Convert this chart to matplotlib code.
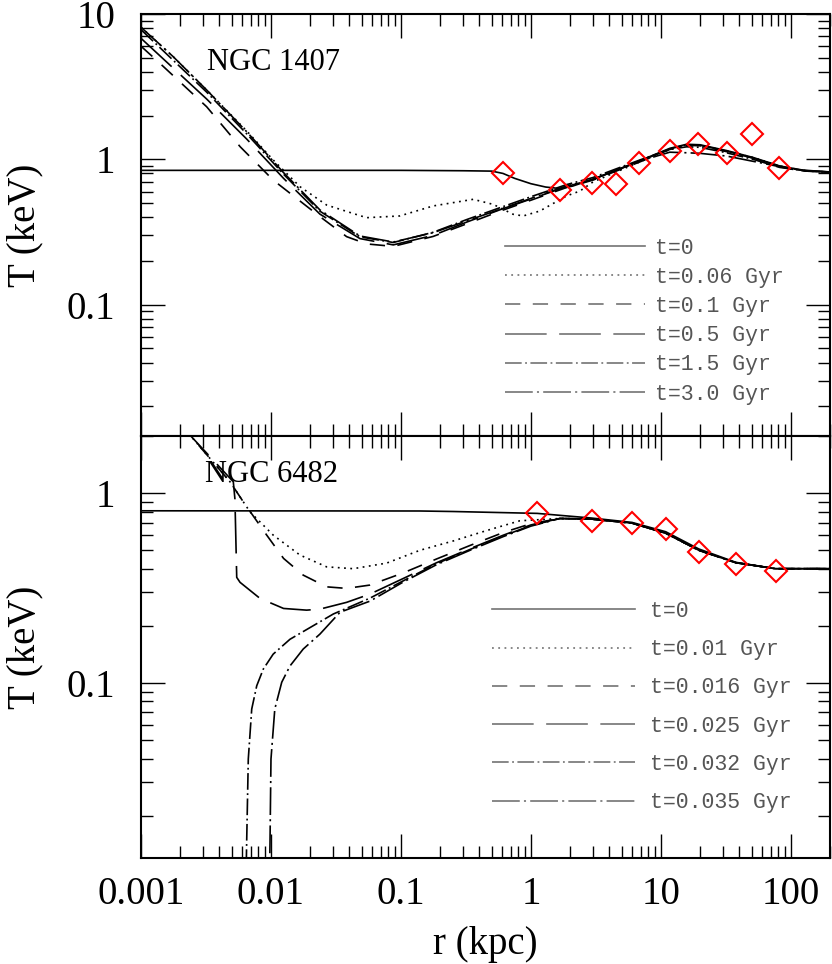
import numpy as np
import matplotlib.pyplot as plt
from matplotlib.lines import Line2D
from matplotlib.ticker import FixedLocator, LogLocator, NullFormatter, FuncFormatter

plt.rcParams['lines.scale_dashes'] = False

# ---- NGC 1407 (upper panel) ----
r_obs_1407 = [0.61, 1.67, 2.93, 4.48, 6.77, 11.7, 19.4, 32.4, 50.7, 81.3]
T_obs_1407 = [0.80, 0.615, 0.69, 0.68, 0.94, 1.15, 1.27, 1.11, 1.50, 0.877]

r_1407_t0 = [0.001, 0.1, 0.3, 0.5, 0.61, 0.75, 1.0, 1.3, 1.67, 2.1, 3.0, 4.5, 6.9, 11.7, 15.8, 20, 32, 51.3, 82.3, 132, 200]
T_1407_t0 = [0.84, 0.84, 0.835, 0.83, 0.80, 0.74, 0.68, 0.645, 0.63, 0.655, 0.73, 0.84, 0.98, 1.19, 1.27, 1.26, 1.15, 1.03, 0.90, 0.835, 0.82]

r_1407_t006 = [0.001, 0.00177, 0.0032, 0.0065, 0.0104, 0.0167, 0.0268, 0.0484, 0.0545, 0.098, 0.177, 0.36, 0.513, 0.73, 0.873, 1.17, 1.88, 2.38, 3.01, 6.89, 11.7, 15.8, 20, 32, 51.3, 82.3, 132, 200]
T_1407_t006 = [8.1, 5.08, 3.0, 1.57, 0.99, 0.649, 0.485, 0.41, 0.397, 0.408, 0.478, 0.531, 0.49, 0.419, 0.408, 0.441, 0.56, 0.605, 0.70, 0.96, 1.17, 1.26, 1.25, 1.14, 1.03, 0.90, 0.83, 0.818]

r_1407_t01 = [0.001, 0.0014, 0.0032, 0.0058, 0.0104, 0.0238, 0.0382, 0.0545, 0.0873, 0.177, 0.32, 0.578, 1.04, 1.88, 3.01, 6.89, 11.7, 15.8, 20, 32, 51.3, 82.3, 132, 200]
T_1407_t01 = [6.0, 4.57, 2.3, 1.22, 0.72, 0.404, 0.294, 0.262, 0.252, 0.295, 0.36, 0.44, 0.53, 0.64, 0.72, 0.96, 1.17, 1.25, 1.24, 1.13, 1.02, 0.895, 0.83, 0.818]

r_1407_t05 = [0.001, 0.0032, 0.0065, 0.0125, 0.0238, 0.0484, 0.0873, 0.177, 0.32, 0.578, 1.04, 1.88, 3.01, 6.89, 11.7, 15.8, 20, 32, 51.3, 82.3, 132, 200]
T_1407_t05 = [6.8, 2.6, 1.38, 0.74, 0.42, 0.285, 0.258, 0.30, 0.37, 0.45, 0.54, 0.65, 0.73, 0.97, 1.18, 1.26, 1.25, 1.14, 1.02, 0.895, 0.83, 0.818]

r_1407_t15 = [0.001, 0.0032, 0.0065, 0.0125, 0.0238, 0.0484, 0.0873, 0.177, 0.32, 0.578, 1.04, 1.88, 3.01, 6.89, 11.7, 15.8, 20, 32, 51.3, 82.3, 132, 200]
T_1407_t15 = [7.8, 2.9, 1.5, 0.79, 0.44, 0.293, 0.268, 0.315, 0.385, 0.465, 0.56, 0.67, 0.75, 0.99, 1.17, 1.22, 1.21, 1.11, 1.0, 0.88, 0.83, 0.818]

r_1407_t30 = [0.001, 0.00177, 0.0032, 0.0065, 0.0125, 0.0238, 0.0484, 0.0873, 0.177, 0.32, 0.578, 1.04, 1.88, 3.01, 6.89, 11.7, 15.8, 20, 32, 57.8, 103, 200]
T_1407_t30 = [8.1, 5.08, 3.0, 1.55, 0.81, 0.449, 0.297, 0.27, 0.313, 0.377, 0.453, 0.545, 0.656, 0.729, 0.973, 1.12, 1.11, 1.10, 1.054, 0.949, 0.854, 0.818]

labels_1407 = ['t=0', 't=0.06 Gyr', 't=0.1 Gyr', 't=0.5 Gyr', 't=1.5 Gyr', 't=3.0 Gyr']

# ---- NGC 6482 (lower panel) ----
r_obs_6482 = [1.12, 2.93, 6.0, 10.9, 19.6, 37.8, 76.3]
T_obs_6482 = [0.79, 0.715, 0.70, 0.647, 0.488, 0.423, 0.39]

r_6482_t0 = [0.001, 0.14, 0.253, 1.12, 2.93, 6.0, 10.9, 19.6, 37.8, 76.3, 200]
T_6482_t0 = [0.807, 0.805, 0.80, 0.782, 0.739, 0.701, 0.626, 0.508, 0.432, 0.40, 0.40]

# outer part shared by the evolved profiles
r_tail_6482 = [1.67, 2.93, 6.0, 10.9, 19.6, 37.8, 76.3, 200]
T_tail_6482 = [0.735, 0.73, 0.695, 0.615, 0.50, 0.43, 0.40, 0.40]

r_6482_t001 = [0.002, 0.00238, 0.00484, 0.00689, 0.0104, 0.0167, 0.0268, 0.043, 0.0776, 0.14, 0.253, 0.456, 0.823] + r_tail_6482
T_6482_t001 = [2.3, 2.02, 1.147, 0.797, 0.601, 0.472, 0.409, 0.40, 0.428, 0.50, 0.56, 0.635, 0.715] + T_tail_6482

r_6482_t0016 = [0.002, 0.00238, 0.00484, 0.00612, 0.00927, 0.0125, 0.0177, 0.0268, 0.0382, 0.0578, 0.104, 0.188, 0.34, 0.612, 1.0] + r_tail_6482
T_6482_t0016 = [2.3, 2.02, 1.147, 0.90, 0.601, 0.453, 0.37, 0.321, 0.315, 0.328, 0.38, 0.45, 0.53, 0.62, 0.69] + T_tail_6482

r_6482_t0025 = [0.002, 0.00238, 0.00513, 0.00528, 0.00545, 0.00578, 0.00823, 0.0125, 0.0188, 0.0238, 0.0382, 0.0578, 0.104, 0.188, 0.34, 0.612, 1.0] + r_tail_6482
T_6482_t0025 = [2.3, 2.02, 1.147, 0.93, 0.36, 0.339, 0.279, 0.247, 0.242, 0.245, 0.266, 0.294, 0.355, 0.43, 0.51, 0.60, 0.68] + T_tail_6482

r_6482_t0032 = [0.0064, 0.0065, 0.00669, 0.00711, 0.00777, 0.00873, 0.0104, 0.014, 0.02, 0.0302, 0.0578, 0.104, 0.188, 0.34, 0.612, 1.0] + r_tail_6482
T_6482_t0032 = [0.008, 0.0145, 0.0398, 0.073, 0.0968, 0.1185, 0.142, 0.17, 0.196, 0.231, 0.28, 0.345, 0.425, 0.505, 0.595, 0.675] + T_tail_6482

r_6482_t0035 = [0.0097, 0.00983, 0.01, 0.0107, 0.0121, 0.014, 0.0177, 0.0238, 0.034, 0.0578, 0.104, 0.188, 0.34, 0.612, 1.0] + r_tail_6482
T_6482_t0035 = [0.008, 0.0145, 0.0398, 0.073, 0.101, 0.123, 0.151, 0.181, 0.236, 0.27, 0.34, 0.42, 0.50, 0.59, 0.67] + T_tail_6482

labels_6482 = ['t=0', 't=0.01 Gyr', 't=0.016 Gyr', 't=0.025 Gyr', 't=0.032 Gyr', 't=0.035 Gyr']

# line styles (points)
styles = ['-', (0, (1.3, 3.2)), (0, (11, 9)), (0, (30, 9)),
          (0, (12, 2.5, 1.3, 2.5)), (0, (20, 3, 1.5, 3))]

serif = 'Liberation Serif'
mono = 'Liberation Mono'

fig = plt.figure(figsize=(8.32, 9.64), dpi=100)
ax1 = fig.add_axes([0.1695, 0.5477, 0.828, 0.4378])
ax2 = fig.add_axes([0.1695, 0.110, 0.828, 0.4378])

curves_1407 = [(r_1407_t0, T_1407_t0), (r_1407_t006, T_1407_t006), (r_1407_t01, T_1407_t01),
               (r_1407_t05, T_1407_t05), (r_1407_t15, T_1407_t15), (r_1407_t30, T_1407_t30)]
curves_6482 = [(r_6482_t0, T_6482_t0), (r_6482_t001, T_6482_t001), (r_6482_t0016, T_6482_t0016),
               (r_6482_t0025, T_6482_t0025), (r_6482_t0032, T_6482_t0032), (r_6482_t0035, T_6482_t0035)]

for (r, T), ls in zip(curves_1407, styles):
    ax1.plot(r, T, color='black', linestyle=ls, linewidth=1.2)
ax1.plot(r_obs_1407, T_obs_1407, linestyle='None', marker='D', ms=11,
         mfc='none', mec='red', mew=1.5)

for (r, T), ls in zip(curves_6482, styles):
    ax2.plot(r, T, color='black', linestyle=ls, linewidth=1.2)
ax2.plot(r_obs_6482, T_obs_6482, linestyle='None', marker='D', ms=11,
         mfc='none', mec='red', mew=1.5)

ax1.set_ylim(0.0125, 10)
ax2.set_ylim(0.012, 2)

lab = FuncFormatter(lambda v, pos: '%g' % v)
for ax in (ax1, ax2):
    ax.set_xscale('log')
    ax.set_yscale('log')
    ax.set_xlim(0.001, 200)
    ax.xaxis.set_major_locator(FixedLocator([0.001, 0.01, 0.1, 1, 10, 100]))
    ax.xaxis.set_minor_locator(LogLocator(base=10, subs=np.arange(2, 10)))
    ax.yaxis.set_major_locator(FixedLocator([0.01, 0.1, 1, 10]))
    ax.yaxis.set_minor_locator(LogLocator(base=10, subs=np.arange(2, 10)))
    ax.xaxis.set_minor_formatter(NullFormatter())
    ax.yaxis.set_minor_formatter(NullFormatter())
    ax.yaxis.set_major_formatter(lab)
    ax.xaxis.set_major_formatter(lab)
    ax.tick_params(which='both', direction='in', top=True, right=True, width=1.0)
    ax.tick_params(which='major', length=17)
    ax.tick_params(which='minor', length=8.5)
    ax.tick_params(axis='y', which='major', pad=18.5, labelsize=28)
    ax.tick_params(axis='x', which='major', pad=13, labelsize=28)
    for lb in ax.get_xticklabels() + ax.get_yticklabels():
        lb.set_family(serif)
    for sp in ax.spines.values():
        sp.set_linewidth(1.5)
    ax.set_ylabel('T (keV)', fontsize=28, family=serif)
    ax.yaxis.set_label_coords(-0.142, 0.5)

ax1.tick_params(axis='x', labelbottom=False)
ax2.set_xlabel('r (kpc)', fontsize=28, family=serif)
ax2.xaxis.label.set_va('bottom')
ax2.xaxis.set_label_coords(0.5, -0.25)

ax1.text(0.0958, 0.886, 'NGC 1407', transform=ax1.transAxes, fontsize=22,
         family=serif, va='center', ha='left')
ax2.text(0.093, 0.9076, 'NGC 6482', transform=ax2.transAxes, fontsize=22,
         family=serif, va='center', ha='left')

def add_legend(ax, labels, anchor, spacing, hl, tp):
    handles = [Line2D([], [], color='0.45', linestyle=ls, linewidth=1.2) for ls in styles]
    leg = ax.legend(handles, labels, loc='upper left', bbox_to_anchor=anchor,
                    frameon=False, borderpad=0, borderaxespad=0,
                    handlelength=hl, handletextpad=tp, labelspacing=spacing,
                    prop={'family': mono, 'size': 15.5})
    for t in leg.get_texts():
        t.set_color('#555555')

add_legend(ax1, labels_1407, (0.528, 0.470), 0.38, 6.5, 0.46)
add_legend(ax2, labels_6482, (0.509, 0.609), 0.80, 6.65, 0.7)

fig.savefig('out.png', dpi=100)
